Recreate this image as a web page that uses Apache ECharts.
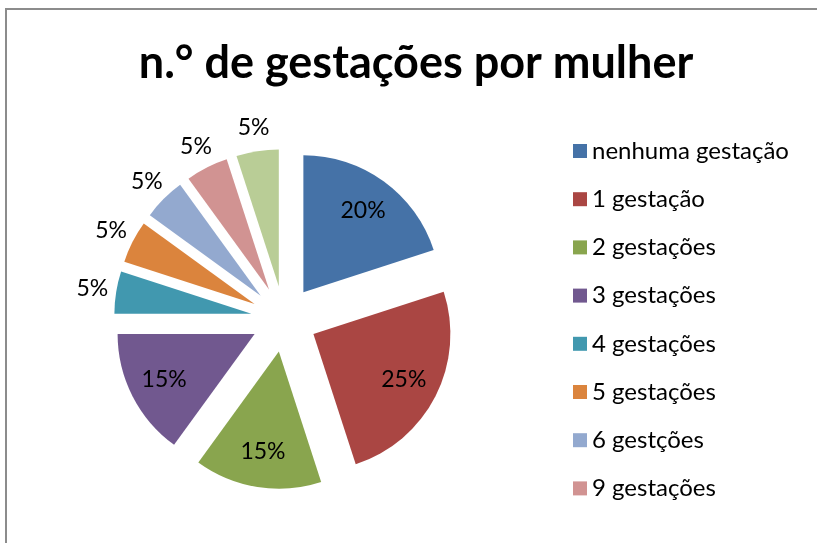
<!DOCTYPE html>
<html>
<head>
<meta charset="utf-8">
<script src="https://cdn.jsdelivr.net/npm/echarts@6/dist/echarts.min.js"></script>
<style>
  html, body { margin: 0; padding: 0; background: #fff; }
  #main { width: 817px; height: 543px; }
</style>
</head>
<body>
<div id="main"></div>
<script>
// dados do gráfico
var categorias = ['nenhuma gestação', '1 gestação', '2 gestações', '3 gestações',
  '4 gestações', '5 gestações', '6 gestções', '9 gestações', '10 gestações'];
var percentuais = [20, 25, 15, 15, 5, 5, 5, 5, 5];
// só as 8 primeiras aparecem na legenda (a última ficou cortada)
var legendaVisivel = categorias.slice(0, 8);

var cores = ['#4572A7', '#AA4643', '#89A54E', '#71588F', '#4198AF',
  '#DB843D', '#93A9CF', '#D19392', '#B9CD96'];

var fonte = 'Lato, "Noto Sans", sans-serif';
var centro = [284, 319];
var raio = 137;
var deslocamento = 33;

function montaDados(labelFn) {
  var arr = [];
  for (let i = 0; i < categorias.length; i++) {
    arr.push({
      name: categorias[i],
      value: percentuais[i],
      selected: true,
      itemStyle: { color: cores[i] },
      label: labelFn(i)
    });
  }
  return arr;
}

var chartDom = document.getElementById('main');
var myChart = echarts.init(chartDom, null, { renderer: 'canvas' });
var option;

var basePie = {
  type: 'pie',
  center: centro,
  startAngle: 90,
  clockwise: true,
  selectedMode: 'multiple',
  selectedOffset: deslocamento,
  avoidLabelOverlap: false,
  labelLayout: { hideOverlap: false },
  emphasis: { disabled: true },
  animation: false,
  labelLine: { show: false }
};

option = {
  animation: false,
  graphic: [{
    type: 'rect',
    shape: { x: 6, y: 9, width: 900, height: 700 },
    style: { fill: 'none', stroke: '#8c8c8c', lineWidth: 2 },
    silent: true
  }],
  title: {
    text: 'n.° de gestações por mulher',
    left: 411,
    textAlign: 'center',
    top: 36,
    textStyle: { fontFamily: fonte, fontWeight: 'bold', fontSize: 45, color: '#000' }
  },
  legend: {
    orient: 'vertical',
    left: 568,
    top: 134,
    data: legendaVisivel,
    itemWidth: 14,
    itemHeight: 14,
    itemGap: 24.2,
    icon: 'rect',
    selectedMode: false,
    textStyle: { fontFamily: fonte, fontSize: 24, color: '#000', lineHeight: 24 }
  },
  series: [
    // fatias
    Object.assign({}, basePie, {
      name: 'fatias',
      radius: [0, raio],
      label: { show: false },
      data: montaDados(function () { return { show: false }; })
    }),
    // rótulos internos
    Object.assign({}, basePie, {
      name: 'rotulos_int',
      radius: [60, raio],
      silent: true,
      label: {
        position: 'inside',
        formatter: '{d}%',
        fontFamily: fonte, fontSize: 23, color: '#000'
      },
      data: montaDados(function (i) {
        return { show: percentuais[i] >= 10 };
      }).map(function (d) { d.itemStyle = { color: 'rgba(0,0,0,0)' }; return d; })
    }),
    // rótulos externos
    Object.assign({}, basePie, {
      name: 'rotulos_ext',
      radius: [143, 173],
      silent: true,
      label: {
        position: 'inside',
        formatter: '{d}%',
        fontFamily: fonte, fontSize: 23, color: '#000'
      },
      data: montaDados(function (i) {
        return { show: percentuais[i] < 10 };
      }).map(function (d) { d.itemStyle = { color: 'rgba(0,0,0,0)' }; return d; })
    })
  ]
};

option && myChart.setOption(option);
</script>
</body>
</html>
